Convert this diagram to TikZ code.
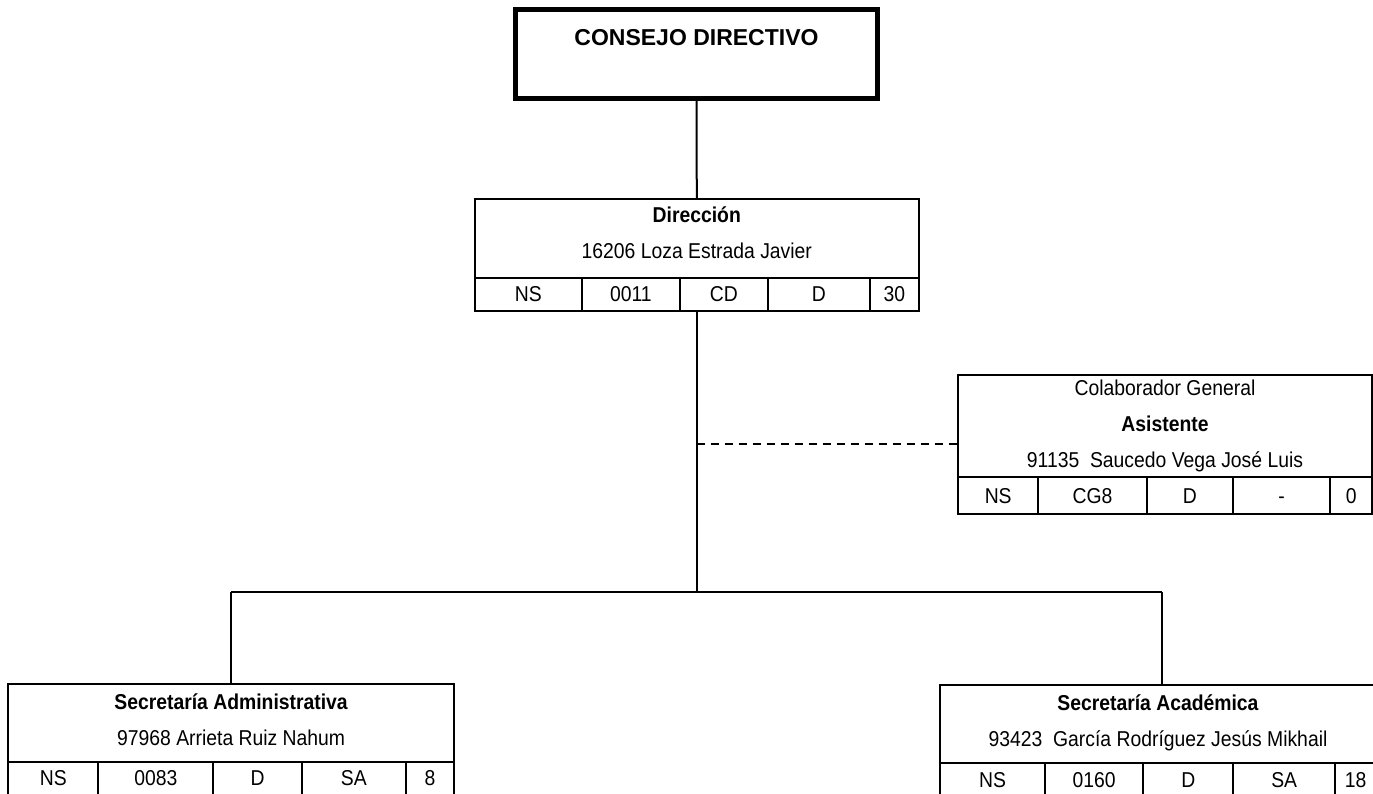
\documentclass[tikz,border=0pt]{standalone}
\usepackage{fontspec}
\setmainfont{Liberation Sans}
\newfontfamily\estrecha{Liberation Sans}[FakeStretch=0.9]
\usepackage{tikz}
\usetikzlibrary{calc}
\usetikzlibrary{positioning}

\tikzset{
  cargo/.style={draw, line width=2pt, outer sep=0pt, inner sep=0pt, anchor=north, align=center, font=\estrecha\fontsize{21.5}{36}\selectfont},
  celda/.style={draw, line width=2pt, outer sep=0pt, inner sep=0pt, anchor=north west, text height=15.4pt, text depth=0pt, font=\estrecha\fontsize{21.5}{24}\selectfont},
  linea/.style={line width=2pt},
  guiones/.style={line width=2pt, dash pattern=on 8pt off 6pt},
}

\begin{document}
\begin{tikzpicture}[x=1pt,y=-1pt]
    \useasboundingbox (0,0) rectangle (1373,794);
    \clip (0,0) rectangle (1373,794);

    \node[draw, line width=5pt, outer sep=0pt, minimum width=362pt, minimum height=89pt, anchor=north] (cd) at (696.5,9.5) {};
    \node[font=\fontsize{23}{28}\selectfont\bfseries] (cdtxt) at ([yshift=-28.5pt]cd.north) {CONSEJO DIRECTIVO};

    \node[cargo, text depth=12pt, minimum width=444.3pt, minimum height=78.7pt] (dir) at (696.8,199) {\textbf{Dirección}\\16206 Loza Estrada Javier};
    \node[celda, minimum width=107.3pt, minimum height=33pt] (dir1) at (dir.south west) {NS};
    \node[celda, minimum width=98pt, minimum height=33pt, right=0pt of dir1] (dir2) {0011};
    \node[celda, minimum width=88pt, minimum height=33pt, right=0pt of dir2] (dir3) {CD};
    \node[celda, minimum width=102pt, minimum height=33pt, right=0pt of dir3] (dir4) {D};
    \node[celda, minimum width=49pt, minimum height=33pt, right=0pt of dir4] (dir5) {30};

    \node[cargo, minimum width=414pt, minimum height=101.7pt] (asis) at (1165,375) {Colaborador General\\\textbf{Asistente}\\91135~~Saucedo Vega José Luis};
    \node[celda, minimum width=80.4pt, minimum height=37.3pt] (asis1) at (asis.south west) {NS};
    \node[celda, minimum width=108.4pt, minimum height=37.3pt, right=0pt of asis1] (asis2) {CG8};
    \node[celda, minimum width=86.2pt, minimum height=37.3pt, right=0pt of asis2] (asis3) {D};
    \node[celda, minimum width=97.4pt, minimum height=37.3pt, right=0pt of asis3] (asis4) {-};
    \node[celda, minimum width=41.6pt, minimum height=37.3pt, right=0pt of asis4] (asis5) {0};

    \node[cargo, text depth=6pt, minimum width=445.7pt, minimum height=77.7pt] (sadm) at (231.15,684) {\textbf{Secretaría Administrativa}\\97968 Arrieta Ruiz Nahum};
    \node[celda, minimum width=90pt, minimum height=33pt] (sadm1) at (sadm.south west) {NS};
    \node[celda, minimum width=115pt, minimum height=33pt, right=0pt of sadm1] (sadm2) {0083};
    \node[celda, minimum width=88.4pt, minimum height=33pt, right=0pt of sadm2] (sadm3) {D};
    \node[celda, minimum width=104.3pt, minimum height=33pt, right=0pt of sadm3] (sadm4) {SA};
    \node[celda, minimum width=48pt, minimum height=33pt, right=0pt of sadm4] (sadm5) {8};

    \node[cargo, text depth=6pt, minimum width=436pt, minimum height=78pt] (sacad) at (1158,685) {\textbf{Secretaría Académica}\\93423~~García Rodríguez Jesús Mikhail};
    \node[celda, minimum width=105pt, minimum height=33pt] (sacad1) at (sacad.south west) {NS};
    \node[celda, minimum width=98.3pt, minimum height=33pt, right=0pt of sacad1] (sacad2) {0160};
    \node[celda, minimum width=90pt, minimum height=33pt, right=0pt of sacad2] (sacad3) {D};
    \node[celda, minimum width=101.7pt, minimum height=33pt, right=0pt of sacad3] (sacad4) {SA};
    \node[celda, minimum width=41pt, minimum height=33pt, right=0pt of sacad4] (sacad5) {18};

    \coordinate (rama) at (696.7,444);
    \coordinate (bus) at (696.7,592);
    \coordinate (busL) at (231.15,592);
    \coordinate (busR) at (1162,592);

    \draw[linea] (cd.south) -- (dir.north);
    \draw[linea] (dir1.south -| bus) -- (bus);
    \draw[guiones] (rama) -- (rama -| asis.west);
    \draw[linea] (busL) -- (busR);
    \draw[linea] (busL) -- (sadm.north);
    \draw[linea] (busR) -- (busR |- sacad.north);
\end{tikzpicture}
\end{document}
